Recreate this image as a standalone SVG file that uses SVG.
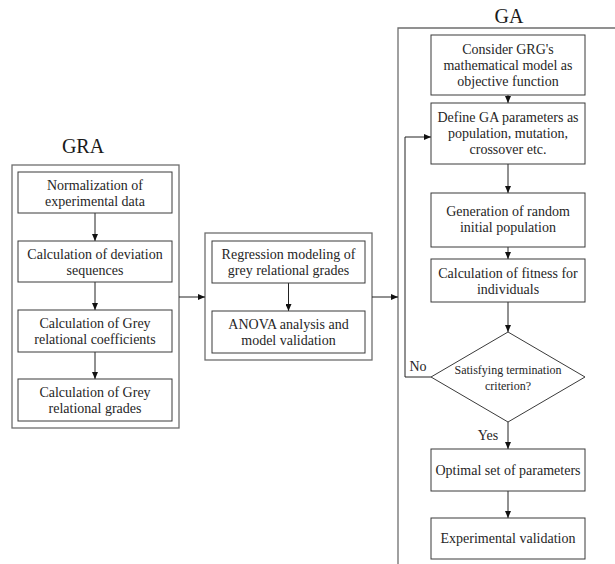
<svg xmlns="http://www.w3.org/2000/svg" width="615" height="564" viewBox="0 0 615 564">
<style>
.frame{fill:none;stroke:#6e6e6e;stroke-width:1.3}
.box{fill:#fff;stroke:#3a3a3a;stroke-width:1}
.t{font-family:'Liberation Serif',serif;font-size:14px;fill:#262626;text-anchor:middle}
.s{font-size:12px}
.title{font-family:'Liberation Serif',serif;font-size:20px;fill:#1a1a1a;text-anchor:middle}
.c{fill:none;stroke:#222;stroke-width:1}
</style>
<defs>
<marker id="ah" markerWidth="7" markerHeight="6" refX="7" refY="3" orient="auto" markerUnits="userSpaceOnUse">
<path d="M0,0 L7,3 L0,6 Z" fill="#111"/>
</marker>
</defs>
<rect width="615" height="564" fill="#fff"/>

<g id="gra-frame">
<text class="title" x="83" y="153">GRA</text>
<rect class="frame" x="12" y="165" width="167" height="263"/>
</g>
<g id="mid-frame">
<rect class="frame" x="205" y="233" width="167" height="127"/>
</g>
<g id="ga-frame">
<text class="title" x="509" y="23">GA</text>
<path class="frame" d="M398,564 V28 H615"/>
</g>

<g id="connectors">
<line class="c" x1="95" y1="213" x2="95" y2="241" marker-end="url(#ah)"/>
<line class="c" x1="95" y1="282" x2="95" y2="310" marker-end="url(#ah)"/>
<line class="c" x1="95" y1="352" x2="95" y2="379" marker-end="url(#ah)"/>
<line class="c" x1="179" y1="297" x2="205" y2="297" marker-end="url(#ah)"/>
<line class="c" x1="288.5" y1="283" x2="288.5" y2="311" marker-end="url(#ah)"/>
<line class="c" x1="372" y1="297" x2="398" y2="297" marker-end="url(#ah)"/>
<line class="c" x1="508" y1="95" x2="508" y2="103" marker-end="url(#ah)"/>
<line class="c" x1="508" y1="164" x2="508" y2="193" marker-end="url(#ah)"/>
<line class="c" x1="508" y1="247" x2="508" y2="259" marker-end="url(#ah)"/>
<line class="c" x1="508" y1="302" x2="508" y2="332" marker-end="url(#ah)"/>
<line class="c" x1="508" y1="422" x2="508" y2="449" marker-end="url(#ah)"/>
<line class="c" x1="508" y1="491" x2="508" y2="518" marker-end="url(#ah)"/>
<polyline class="c" points="431,377 405,377 405,137 431,137" marker-end="url(#ah)"/>
<text class="t" x="418" y="371">No</text>
<text class="t" x="488" y="440">Yes</text>
</g>

<g id="gra1">
<rect class="box" x="18" y="172" width="154" height="41"/>
<text class="t" x="95" y="190">Normalization of</text>
<text class="t" x="95" y="206">experimental data</text>
</g>
<g id="gra2">
<rect class="box" x="18" y="241" width="154" height="41"/>
<text class="t" x="95" y="259">Calculation of deviation</text>
<text class="t" x="95" y="275">sequences</text>
</g>
<g id="gra3">
<rect class="box" x="18" y="310" width="154" height="42"/>
<text class="t" x="95" y="328">Calculation of Grey</text>
<text class="t" x="95" y="344">relational coefficients</text>
</g>
<g id="gra4">
<rect class="box" x="18" y="379" width="154" height="42"/>
<text class="t" x="95" y="397">Calculation of Grey</text>
<text class="t" x="95" y="413">relational grades</text>
</g>

<g id="mid1">
<rect class="box" x="212" y="241" width="153" height="42"/>
<text class="t" x="288.5" y="259">Regression modeling of</text>
<text class="t" x="288.5" y="275">grey relational grades</text>
</g>
<g id="mid2">
<rect class="box" x="212" y="311" width="153" height="42"/>
<text class="t" x="288.5" y="329">ANOVA analysis and</text>
<text class="t" x="288.5" y="345">model validation</text>
</g>

<g id="ga1">
<rect class="box" x="431" y="35" width="154" height="60"/>
<text class="t" x="508" y="54">Consider GRG's</text>
<text class="t" x="508" y="70">mathematical model as</text>
<text class="t" x="508" y="86">objective function</text>
</g>
<g id="ga2">
<rect class="box" x="431" y="103" width="154" height="61"/>
<text class="t" x="508" y="122">Define GA parameters as</text>
<text class="t" x="508" y="138">population, mutation,</text>
<text class="t" x="508" y="154">crossover etc.</text>
</g>
<g id="ga3">
<rect class="box" x="431" y="193" width="154" height="54"/>
<text class="t" x="508" y="216">Generation of random</text>
<text class="t" x="508" y="232">initial population</text>
</g>
<g id="ga4">
<rect class="box" x="431" y="259" width="154" height="43"/>
<text class="t" x="508" y="278">Calculation of fitness for</text>
<text class="t" x="508" y="294">individuals</text>
</g>
<g id="ga-decision">
<polygon class="box" points="508,332 585,377 508,422 431,377"/>
<text class="t s" x="508" y="374">Satisfying termination</text>
<text class="t s" x="508" y="390">criterion?</text>
</g>
<g id="ga5">
<rect class="box" x="431" y="449" width="154" height="42"/>
<text class="t" x="508" y="475">Optimal set of parameters</text>
</g>
<g id="ga6">
<rect class="box" x="431" y="518" width="154" height="41"/>
<text class="t" x="508" y="543">Experimental validation</text>
</g>
</svg>
